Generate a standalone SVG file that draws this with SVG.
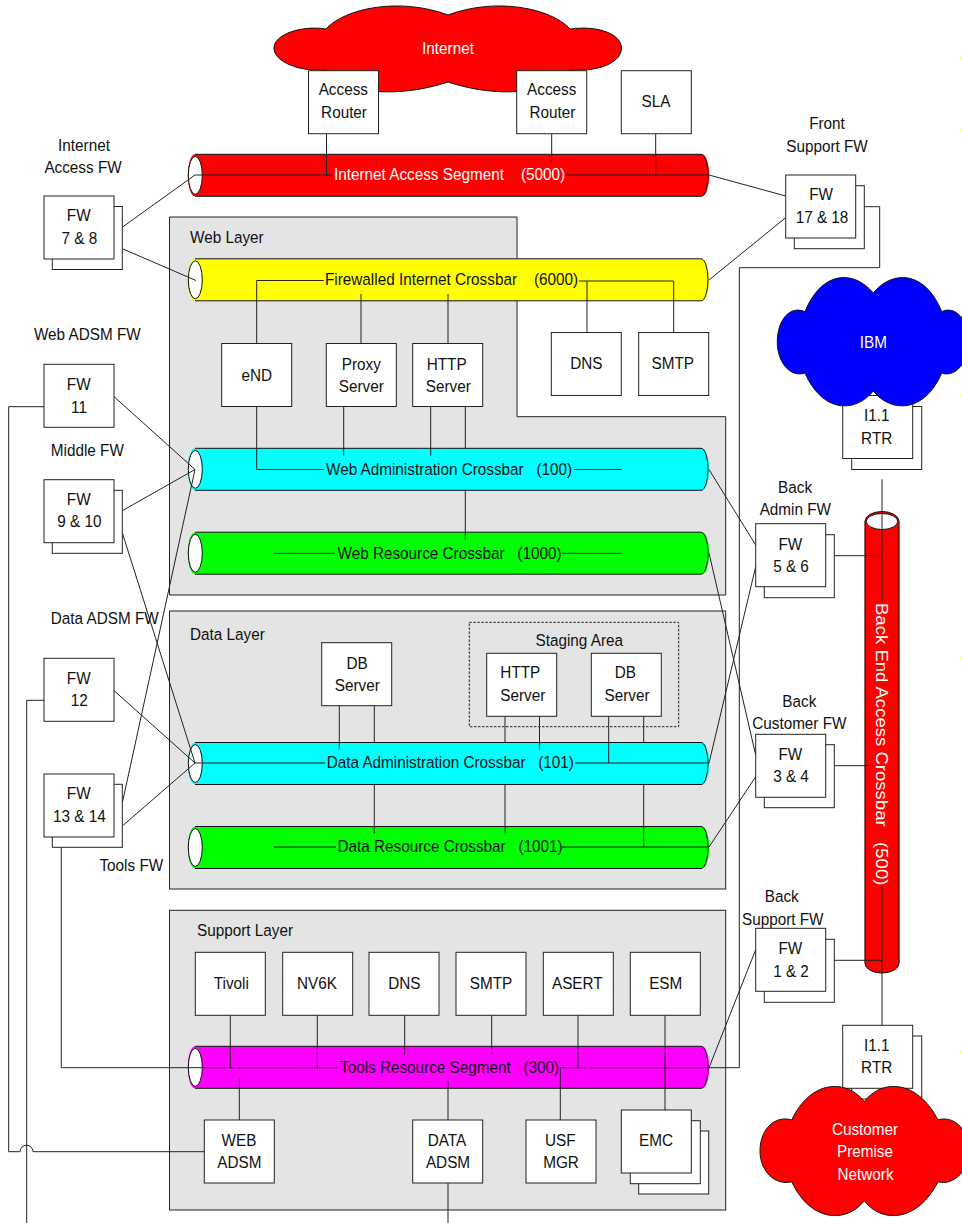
<svg xmlns="http://www.w3.org/2000/svg" width="962" height="1223" viewBox="0 0 962 1223">
<style>
text{font-family:"Liberation Sans",Arial,sans-serif;font-size:17px;fill:#111;transform-box:fill-box;transform-origin:50% 50%;transform:scaleX(.9)}
.m{text-anchor:middle}
.s{transform-origin:0 50%}
.w{fill:#fff}
.v{font-size:16px;transform:none}
.b{fill:#fff;stroke:#222;stroke-width:1}
.layer{fill:#e4e4e4;stroke:#222;stroke-width:1}
#connectors path{fill:none;stroke:#222;stroke-width:1}
.body{stroke:none}
.edge{fill:none;stroke:#111;stroke-width:1}
.cap{fill:#fff;stroke:#111;stroke-width:1}
</style>
<defs>
<g id="cyl">
<path class="body" d="M195 0H702A7.3 21 0 0 1 702 42H195A7.3 21 0 0 1 195 0Z"/>
<path class="edge" d="M195 0H701A7 21 0 0 1 701 42H195"/>
<ellipse class="cap" cx="195.3" cy="21" rx="7" ry="19"/>
</g>
<rect id="box" class="b" width="70" height="63"/>
</defs>
<rect width="962" height="1223" fill="#fff"/>
<path d="M960 58h2M960 130h2M960 395h2M960 658h2M960 1052h2" stroke="#ff0" stroke-width="1" fill="none"/>

<g id="web-layer"><path class="layer" d="M169.5 217H517V416.7H725.7V595H169.5Z"/><text class="s" x="190" y="243">Web Layer</text></g>
<g id="data-layer"><rect class="layer" x="169.5" y="611" width="556.2" height="278"/><text class="s" x="190" y="640.4">Data Layer</text></g>
<g id="support-layer"><rect class="layer" x="169.5" y="910.3" width="556.2" height="299.7"/><text class="s" x="197" y="936.4">Support Layer</text></g>
<g id="staging-area"><rect x="469.3" y="622.3" width="209.4" height="104.4" fill="none" stroke="#222" stroke-dasharray="2.5 1.5"/><text class="m" x="579.3" y="646.4">Staging Area</text></g>

<g id="internet-cloud"><path fill="#f00" stroke="#111" d="M326 29C345 8 400 -3 448 15C496 -3 551 8 570 29C600 25 621.5 35 621.5 48C621.5 62 600 72 570 70C551 95 496 98 448 82C400 98 345 95 326 70C300 72 274 62 274 48C274 35 300 25 326 29Z"/><text class="m w" x="448" y="54">Internet</text></g>

<g id="seg-internet"><use href="#cyl" y="154.3" fill="#f00"/><text class="s w" x="334" y="180.5" xml:space="preserve">Internet Access Segment    (5000)</text></g>
<g id="seg-firewalled"><use href="#cyl" y="258.8" fill="#ff0"/><text class="s" x="325" y="285.5" xml:space="preserve">Firewalled Internet Crossbar    (6000)</text></g>
<g id="seg-web-admin"><use href="#cyl" y="448.3" fill="#0ff"/><text class="s" x="326" y="474.8" xml:space="preserve">Web Administration Crossbar   (100)</text></g>
<g id="seg-web-resource"><use href="#cyl" y="532.2" fill="#0f0"/><text class="s" x="337.5" y="558.7" xml:space="preserve">Web Resource Crossbar   (1000)</text></g>
<g id="seg-data-admin"><use href="#cyl" y="742.5" fill="#0ff"/><text class="s" x="326.7" y="768.5" xml:space="preserve">Data Administration Crossbar   (101)</text></g>
<g id="seg-data-resource"><use href="#cyl" y="826.5" fill="#0f0"/><text class="s" x="337.5" y="852.5" xml:space="preserve">Data Resource Crossbar   (1001)</text></g>
<g id="seg-tools"><use href="#cyl" y="1046.3" fill="#f0f"/><text class="s" x="340" y="1073" xml:space="preserve">Tools Resource Segment   (300)</text></g>
<g id="seg-backend"><path fill="#f00" d="M864.7 521.5A17.3 10 0 0 1 899.3 521.5V963A17.3 10.3 0 0 1 864.7 963Z"/><path class="edge" d="M865 521.5A17 10 0 0 1 899 521.5V963A17 10 0 0 1 865 963Z"/><ellipse class="cap" cx="882" cy="521.5" rx="15.7" ry="8"/><g transform="translate(875.5 603) rotate(90) scale(1.16 1)"><text class="w v" xml:space="preserve">Back End Access Crossbar   (500)</text></g></g>

<g id="connectors">
<path d="M326.5 133V175H332M195 175H332M551.7 133V161M655.7 133V175M566 175H709L785.7 196M123 226.7L195 175M123 249L196 280.5"/>
<path d="M323.7 280.5H256.7V343M361 294V343M448 294V343M579 281H673.7V332M587 281V332M709 280L785.7 217.7"/>
<path d="M864.3 206.7H879.7V267.7H739.3V1067.7H709"/>
<path d="M256.7 406.7V469.5H323.7M343.7 406.7V455.7M430.7 406.7V455.7M465.3 406.7V448M465.3 490.5V539.5M574.3 469.5H621.7"/>
<path d="M274 553.3H335M561.7 553.3H621.7M195 763H325M575 763H709L755.7 566.7M709 469.5L755.7 545M709 553L755.7 755M274 847H336M561.7 847H709L755.7 776.7"/>
<path d="M339.3 706V749.7M374.3 706V743M374.3 784.3V833.3M505 716V743M505 785V833.3M539.5 716V749.7M608.7 716V763M643.7 716V743M643.7 785V847"/>
<path d="M44 406.7H8.7V1151.7H20A6.5 6.5 0 0 1 33 1151.7H204.3M44 700.3H26.7V1223M61.3 847V1067.7H337.7M561.7 1067.7H709L755.7 949.7"/>
<path d="M230.3 1015.3V1067.7M317.3 1015.3V1067.7M404.7 1015.3V1054.7M491.7 1015.3V1054.7M578 1015.3V1067.7M665 1015.3V1110M239.3 1078.3V1120M448 1081V1120M448 1183V1223M560.3 1067.7V1120"/>
<path d="M834.3 555.7H882M834.3 765.7H870.7M834.3 960.3H882M882 479.3V600.7M882 886V1025.3"/>
<path d="M122.3 510.7L195 469.5M113.3 396L195 469.5M122.3 532.7L195 763M113.3 690L195 763M122.3 803L195 469.5M122.3 826L195 763"/>
</g>

<g id="router-1"><use href="#box" x="308.5" y="70.7"/><text class="m" x="343.3" y="95.3">Access</text><text class="m" x="344" y="118.5">Router</text></g>
<g id="router-2"><use href="#box" x="516.7" y="70.7"/><text class="m" x="551.7" y="95.3">Access</text><text class="m" x="552.5" y="118.5">Router</text></g>
<g id="sla"><use href="#box" x="621.3" y="70.7"/><text class="m" x="656" y="107">SLA</text></g>

<g id="label-internet-fw"><text class="m" x="84" y="150.7">Internet</text><text class="m" x="83" y="173.3">Access FW</text></g>
<g id="label-web-adsm-fw"><text class="m" x="87.3" y="340">Web ADSM FW</text></g>
<g id="label-middle-fw"><text class="m" x="87.3" y="456.4">Middle FW</text></g>
<g id="label-data-adsm-fw"><text class="m" x="104.7" y="624.4">Data ADSM FW</text></g>
<g id="label-tools-fw"><text class="m" x="131.3" y="871.4">Tools FW</text></g>
<g id="label-front-fw"><text class="m" x="827" y="129.4">Front</text><text class="m" x="827" y="152.4">Support FW</text></g>
<g id="label-back-admin"><text class="m" x="795" y="492.7">Back</text><text class="m" x="795.3" y="515.4">Admin FW</text></g>
<g id="label-back-customer"><text class="m" x="799.3" y="707.4">Back</text><text class="m" x="799.3" y="729.4">Customer FW</text></g>
<g id="label-back-support"><text class="m" x="781.7" y="902.4">Back</text><text class="m" x="782.7" y="924.7">Support FW</text></g>

<g id="fw-7-8"><use href="#box" x="52.3" y="206.5"/><use href="#box" x="44" y="196"/><text class="m" x="78.7" y="220.7">FW</text><text class="m" x="79.3" y="244.4">7 &amp; 8</text></g>
<g id="fw-11"><use href="#box" x="44" y="364.3"/><text class="m" x="78.7" y="390">FW</text><text class="m" x="79" y="413">11</text></g>
<g id="fw-9-10"><use href="#box" x="52.3" y="490.3"/><use href="#box" x="44" y="479.7"/><text class="m" x="78.7" y="505">FW</text><text class="m" x="79.3" y="527.4">9 &amp; 10</text></g>
<g id="fw-12"><use href="#box" x="44" y="658.3"/><text class="m" x="78.7" y="684">FW</text><text class="m" x="79.3" y="706.4">12</text></g>
<g id="fw-13-14"><use href="#box" x="52.3" y="784.3"/><use href="#box" x="44" y="774"/><text class="m" x="78.7" y="799">FW</text><text class="m" x="79.3" y="822.4">13 &amp; 14</text></g>
<g id="fw-17-18"><use href="#box" x="794.3" y="185.7"/><use href="#box" x="785.7" y="175"/><text class="m" x="821" y="200">FW</text><text class="m" x="822" y="223.4">17 &amp; 18</text></g>
<g id="fw-5-6"><use href="#box" x="764.3" y="534.7"/><use href="#box" x="755.7" y="523.7"/><text class="m" x="790.3" y="550">FW</text><text class="m" x="791" y="572.4">5 &amp; 6</text></g>
<g id="fw-3-4"><use href="#box" x="764.3" y="744.7"/><use href="#box" x="755.7" y="734.3"/><text class="m" x="790.3" y="760">FW</text><text class="m" x="791" y="782.4">3 &amp; 4</text></g>
<g id="fw-1-2"><use href="#box" x="764.3" y="939.3"/><use href="#box" x="755.7" y="928.3"/><text class="m" x="790.3" y="954">FW</text><text class="m" x="791" y="977.4">1 &amp; 2</text></g>

<g id="end"><use href="#box" x="221.7" y="343.5"/><text class="m" x="256.7" y="380.7">eND</text></g>
<g id="proxy"><use href="#box" x="326.3" y="343.5"/><text class="m" x="361.3" y="369.7">Proxy</text><text class="m" x="361.3" y="391.7">Server</text></g>
<g id="http-web"><use href="#box" x="412.7" y="343.5"/><text class="m" x="446.7" y="369.7">HTTP</text><text class="m" x="448.3" y="391.7">Server</text></g>
<g id="dns-front"><use href="#box" x="551.3" y="332.5"/><text class="m" x="586.3" y="369">DNS</text></g>
<g id="smtp-front"><use href="#box" x="638.7" y="332.5"/><text class="m" x="672.7" y="369">SMTP</text></g>

<g id="db-data"><use href="#box" x="321.7" y="642.7"/><text class="m" x="357" y="669.4">DB</text><text class="m" x="357.3" y="691.4">Server</text></g>
<g id="http-staging"><use href="#box" x="486.7" y="653.3"/><text class="m" x="520.3" y="678.4">HTTP</text><text class="m" x="522.7" y="701.4">Server</text></g>
<g id="db-staging"><use href="#box" x="591.3" y="653.3"/><text class="m" x="625.3" y="678.4">DB</text><text class="m" x="627" y="701.4">Server</text></g>

<g id="tivoli"><use href="#box" x="195.3" y="952.3"/><text class="m" x="231.3" y="989">Tivoli</text></g>
<g id="nv6k"><use href="#box" x="282.7" y="952.3"/><text class="m" x="317" y="989">NV6K</text></g>
<g id="dns-support"><use href="#box" x="369" y="952.3"/><text class="m" x="404.3" y="989">DNS</text></g>
<g id="smtp-support"><use href="#box" x="456" y="952.3"/><text class="m" x="491" y="989">SMTP</text></g>
<g id="asert"><use href="#box" x="543.3" y="952.3"/><text class="m" x="577.3" y="989">ASERT</text></g>
<g id="esm"><use href="#box" x="630.3" y="952.3"/><text class="m" x="665.7" y="989">ESM</text></g>
<g id="web-adsm"><use href="#box" x="204.3" y="1120"/><text class="m" x="239" y="1146.4">WEB</text><text class="m" x="239.3" y="1168.4">ADSM</text></g>
<g id="data-adsm"><use href="#box" x="412.7" y="1120"/><text class="m" x="447" y="1146.4">DATA</text><text class="m" x="448" y="1168.4">ADSM</text></g>
<g id="usf-mgr"><use href="#box" x="526" y="1120"/><text class="m" x="560.3" y="1146.4">USF</text><text class="m" x="561" y="1168.4">MGR</text></g>
<g id="emc"><use href="#box" x="638.7" y="1131"/><use href="#box" x="630.3" y="1120.7"/><use href="#box" x="621.3" y="1110"/><text class="m" x="656" y="1146.4">EMC</text></g>

<g id="rtr-top"><use href="#box" x="851.7" y="406.5"/><use href="#box" x="842.7" y="395.5"/><text class="m" x="876.7" y="421.4">I1.1</text><text class="m" x="876.7" y="444.4">RTR</text></g>
<g id="ibm-cloud"><path fill="#00f" stroke="#111" d="M873.3 293C892 270 925 270 941.7 311.7C955 305 969 320 969 342C969 362 955 378 941.7 373C925 412 892 414 873.3 391C854 414 822 412 805 373C790 378 777.3 362 777.3 342C777.3 320 790 305 805 311.7C822 270 854 270 873.3 293Z"/><text class="m w" x="873.3" y="348">IBM</text></g>
<g id="rtr-bottom"><use href="#box" x="851.7" y="1036"/><use href="#box" x="842.7" y="1025.3"/><text class="m" x="876.7" y="1051.4">I1.1</text><text class="m" x="876.7" y="1073.4">RTR</text></g>
<g id="customer-cloud"><path fill="#f00" stroke="#111" d="M864.3 1101.7C881 1079 917 1079 938 1120C952 1115 969 1128 969 1151C969 1172 952 1186 938 1181.7C917 1223 881 1223 864.3 1200.7C847 1223 811 1223 791.7 1181.7C776 1186 760 1172 760 1151C760 1128 776 1115 791.7 1120C811 1079 847 1079 864.3 1101.7Z"/><text class="m w" x="865" y="1135.4">Customer</text><text class="m w" x="865" y="1157.4">Premise</text><text class="m w" x="865.5" y="1180.4">Network</text></g>
</svg>
